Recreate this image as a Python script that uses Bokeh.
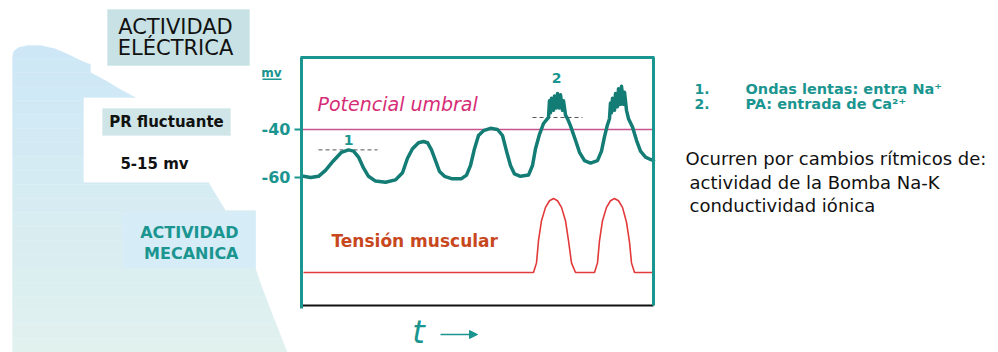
from bokeh.plotting import figure
from bokeh.models import (Range1d, LinearAxis, FixedTicker, Label, PolyAnnotation,
                          Arrow, NormalHead)
from bokeh.embed import file_html
from bokeh.resources import INLINE

# ---------------- data (time in arbitrary units, membrane potential in mV) ----------------
t_window = [0, 352]          # recorded time window
mv_window = [-113.333, -10]  # plotted potential window

wave_t = [2, 9, 17, 24, 32, 40, 47, 52, 57, 62, 67, 74, 84, 94, 101, 106, 111, 117, 122, 126,
          130, 134, 138, 143, 150, 160, 165, 169, 173, 177, 182, 189, 196, 201, 205, 209, 213,
          219, 227, 231, 234, 238, 242, 246,
          247, 248, 249, 250, 252, 253, 255, 256, 258, 259, 261, 262, 264, 266,
          269, 274, 278, 283, 289, 296, 300, 303, 306,
          308, 309, 310, 311, 313, 314, 316, 317, 319, 320, 322, 323, 325, 327,
          331, 335, 339, 344, 349, 352]
wave_mv = [-59.5, -60, -59.5, -57, -53, -49.5, -48.5, -49, -51.5, -56, -59.5, -61.5, -62, -61,
           -58, -52, -48, -45.5, -45, -45.5, -48.5, -53, -57.5, -59.5, -60.5, -60.5, -59, -55,
           -48, -42.5, -40.5, -39.5, -40, -42.5, -49, -55, -58.5, -59.5, -59, -55, -48, -42,
           -37.5, -35.5,
           -35, -28, -33, -27, -32, -26, -31, -25, -31, -25.5, -32, -28, -34, -35.5,
           -38.5, -44.5, -49.5, -53, -54, -53, -49, -43, -38,
           -35.5, -29, -33, -27, -32, -25, -30.5, -23, -29.5, -22, -29.5, -24.5, -32, -35.5,
           -39, -44.5, -49, -51.5, -52.5, -53]

tension_t = [2, 232, 235, 237, 240, 244, 248, 252, 256, 260, 264, 267, 270, 274,
             293, 296, 298, 301, 305, 309, 313, 317, 321, 325, 328, 330, 333, 352]
tension_v = [0, 0, 0.13, 0.43, 0.7, 0.88, 0.97, 1.0, 0.97, 0.88, 0.7, 0.43, 0.13, 0,
             0, 0.13, 0.43, 0.7, 0.88, 0.97, 1.0, 0.97, 0.88, 0.68, 0.41, 0.13, 0, 0]

threshold_mv = -40
ytick_values = [-60, -40]
ytick_labels = {-60: "-60", -40: "-40"}

mark_labels = ["1", "2"]
mark_t0 = [17, 231]
mark_t1 = [76, 281]
mark_mv = [-48.5, -35]
mark_label_t = [47, 255]
mark_label_mv = [-44.5, -18.5]

# ---------------- styling ----------------
TEAL = "#1b9590"
WAVE = "#137c75"
FONT = "DejaVu Sans"

# frame covers the whole canvas (page pixels 0..998 x 0..352); chart box = 301..653 x 57..305
p = figure(width=998, height=352, output_backend="svg", toolbar_location=None,
           x_range=Range1d(-301, 697), y_range=Range1d(-132.917, 13.75),
           x_axis_type=None, y_axis_type=None, min_border=0)
p.extra_y_ranges = {"tension": Range1d(-1.081, 3.6757), "py": Range1d(352, 0)}
p.extra_x_ranges = {"px": Range1d(0, 998)}
p.outline_line_color = None
p.xgrid.visible = False
p.ygrid.visible = False
p.background_fill_color = "white"
p.border_fill_color = "white"


def X(xr):  # page pixel -> default x units
    return xr - 301


def Y(yr):  # page pixel -> default y units
    return -40 - (yr - 129) / 2.4


def poly(pts, color):
    p.add_layout(PolyAnnotation(xs=[X(q[0]) for q in pts], ys=[Y(q[1]) for q in pts],
                                fill_color=color, fill_alpha=1, line_color=color, line_width=1))


# ---------------- left decorative shape (gradient bands) ----------------
shape = [(12, 360), (12, 57), (13, 51), (18, 47), (27, 45), (40, 45), (54, 48), (68, 54),
         (80, 60), (90, 64), (90, 72), (105, 80), (120, 89), (135, 97), (83, 97), (83, 182),
         (208, 182), (225, 210), (255, 210), (255, 268), (260, 283), (273, 317), (290, 360)]


def clip_half(pts, keep, yc):
    out = []
    n = len(pts)
    for i in range(n):
        cur, prev = pts[i], pts[i - 1]
        def inter(a, b):
            t = (yc - a[1]) / (b[1] - a[1])
            return (a[0] + t * (b[0] - a[0]), yc)
        if keep(cur):
            if not keep(prev):
                out.append(inter(prev, cur))
            out.append(cur)
        elif keep(prev):
            out.append(inter(prev, cur))
    return out


top_c = (205, 231, 247)
bot_c = (224, 241, 238)
edges = list(range(44, 353, 14)) + [360]
for i in range(len(edges) - 1):
    y0, y1 = edges[i], edges[i + 1]
    pts = clip_half(shape, lambda q: q[1] >= y0, y0)
    if pts:
        pts = clip_half(pts, lambda q: q[1] <= y1, y1)
    if len(pts) < 3:
        continue
    f = min(1.0, ((y0 + y1) / 2 - 44) / (352 - 44))
    c = tuple(int(round(top_c[k] + f * (bot_c[k] - top_c[k]))) for k in range(3))
    poly(pts, "#%02x%02x%02x" % c)

# mechanical activity box (slightly bluer)
poly([(122, 212), (255, 212), (255, 268), (122, 268)], "#d6edf7")
# text boxes
poly([(107, 9), (249, 9), (249, 65), (107, 65)], "#c7e1e4")
poly([(102, 108), (230, 108), (230, 135), (102, 135)], "#d0e5e8")
# underline of "mv"
p.add_layout(PolyAnnotation(xs=[X(262), X(281), X(281), X(262)],
                            ys=[Y(78), Y(78), Y(79.4), Y(79.4)],
                            fill_color=TEAL, fill_alpha=1, line_color=None))


def lab(x, y, text, size, color, style="normal", align="left"):
    p.add_layout(Label(x=x, y=y, text=text, x_range_name="px", y_range_name="py",
                       text_font=FONT, text_font_size=size, text_color=color,
                       text_font_style=style, text_align=align, text_baseline="middle"))


lab(175, 26, "ACTIVIDAD", "21px", "#111111", align="center")
lab(175, 47, "ELÉCTRICA", "21px", "#111111", align="center")
lab(166, 121, "PR fluctuante", "15px", "#111111", "bold", "center")
lab(154, 163, "5-15 mv", "15px", "#111111", "bold", "center")
lab(238, 232, "ACTIVIDAD", "16px", TEAL, "bold", "right")
lab(238, 253, "MECANICA", "16px", TEAL, "bold", "right")
lab(271, 72, "mv", "12px", TEAL, "bold", "center")
lab(317, 103, "Potencial umbral", "19px", "#d62c76", "italic")
lab(331, 240, "Tensión muscular", "17px", "#c8481e", "bold")
lab(418, 331, "t", "32px", TEAL, "italic", "center")

lab(694, 88, "1.", "14px", TEAL, "bold")
lab(745, 88, "Ondas lentas: entra Na\u207a", "14.5px", TEAL, "bold")
lab(694, 103, "2.", "14px", TEAL, "bold")
lab(745, 103, "PA: entrada de Ca\u00b2\u207a", "14.5px", TEAL, "bold")
lab(685, 158, "Ocurren por cambios rítmicos de:", "18px", "#111111")
lab(689, 182, "actividad de la Bomba Na-K", "18px", "#111111")
lab(689, 205, "conductividad iónica", "18px", "#111111")

p.add_layout(Arrow(end=NormalHead(size=8, fill_color=TEAL, line_color=TEAL),
                   x_start=440, y_start=334, x_end=477, y_end=334,
                   x_range_name="px", y_range_name="py",
                   line_color=TEAL, line_width=1.5))

# ---------------- chart box: axes at fixed locations ----------------
yax = LinearAxis(ticker=FixedTicker(ticks=ytick_values), major_label_overrides=ytick_labels,
                 fixed_location=t_window[0], bounds=(mv_window[0] - 1.2, mv_window[1]))
yax.axis_line_color = TEAL
yax.axis_line_width = 3
yax.major_tick_line_color = TEAL
yax.major_tick_line_width = 2
yax.major_tick_out = 7
yax.major_tick_in = 0
yax.minor_tick_line_color = None
yax.major_label_text_color = TEAL
yax.major_label_text_font = FONT
yax.major_label_text_font_style = "bold"
yax.major_label_text_font_size = "16px"
yax.major_label_standoff = 4
p.add_layout(yax, "left")


def edge_axis(side, loc, bounds, color, width):
    ax = LinearAxis(ticker=FixedTicker(ticks=[]), fixed_location=loc, bounds=bounds)
    ax.axis_line_color = color
    ax.axis_line_width = width
    ax.major_tick_line_color = None
    ax.minor_tick_line_color = None
    ax.major_label_text_font_size = "0px"
    p.add_layout(ax, side)


edge_axis("right", t_window[1], tuple(mv_window), TEAL, 3)
edge_axis("above", mv_window[1], (t_window[0] - 0.6, t_window[1] + 0.6), TEAL, 3)
edge_axis("below", mv_window[0], tuple(t_window), "#111111", 2)

# ---------------- chart content ----------------
p.line(t_window, [threshold_mv, threshold_mv], line_color="#c7568f", line_width=1.5)

p.segment(x0=mark_t0, y0=mark_mv, x1=mark_t1, y1=mark_mv,
          line_color="#555555", line_width=1, line_dash="4 3")
p.text(x=mark_label_t, y=mark_label_mv, text=mark_labels, text_color=TEAL,
       text_font_size="14px", text_font_style="bold", text_align="center",
       text_baseline="middle", text_font={"value": FONT})

p.line(tension_t, tension_v, y_range_name="tension", line_color="#e23a3a", line_width=1.6)
p.line(wave_t, wave_mv, line_color=WAVE, line_width=3.5, line_join="round", line_cap="round")

open("out.html", "w").write(file_html(p, INLINE))
